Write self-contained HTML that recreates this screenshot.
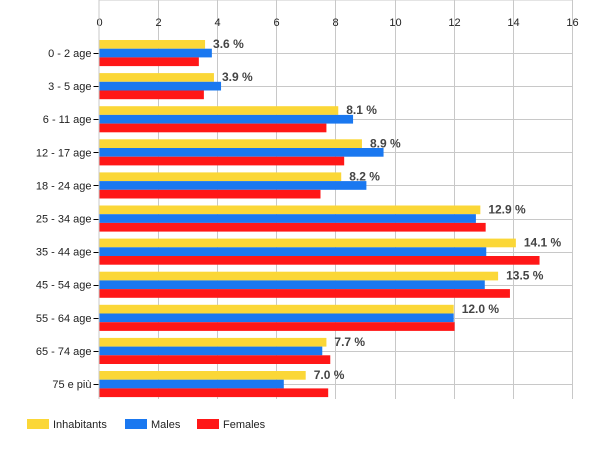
<!DOCTYPE html>
<html><head><meta charset="utf-8"><style>
html,body{margin:0;padding:0;background:#fff;}
svg{display:block;font-family:"Liberation Sans",Arial,sans-serif;}
</style></head><body>
<svg width="600" height="450" xmlns="http://www.w3.org/2000/svg">
<g id="grid" stroke="#c8c8c8" stroke-width="1"></g>
<g id="bars"></g>
<g id="txt"></g>
<g font-size="11" fill="#222">
<rect x="27" y="419" width="22" height="10" fill="#FBD737"/><text x="53" y="428">Inhabitants</text>
<rect x="125" y="419" width="22" height="10" fill="#1A78F0"/><text x="151" y="428">Males</text>
<rect x="197" y="419" width="22" height="10" fill="#FF1717"/><text x="223" y="428">Females</text>
</g>
<script>
var ns="http://www.w3.org/2000/svg";
function el(p,t,a,txt){var e=document.createElementNS(ns,t);for(var k in a)e.setAttribute(k,a[k]);if(txt!=null)e.textContent=txt;p.appendChild(e);return e;}
var g=document.getElementById('grid'),b=document.getElementById('bars'),t=document.getElementById('txt');
var x0=98.5,s=29.6,top=31,bot=399;
el(g,'line',{x1:x0,x2:x0+16*s,y1:top+0.5,y2:top+0.5});
for(var i=0;i<=8;i++){var x=Math.round(x0+2*i*s)+0.5;
 if(i>0)el(g,'line',{x1:x,x2:x,y1:top,y2:bot});
 el(t,'line',{x1:x,x2:x,y1:top-4,y2:top,stroke:'#000'});
 el(t,'text',{x:x,y:26,'text-anchor':'middle','font-size':11,fill:'#222'},String(2*i));}
var cats=["0 - 2 age","3 - 5 age","6 - 11 age","12 - 17 age","18 - 24 age","25 - 34 age","35 - 44 age","45 - 54 age","55 - 64 age","65 - 74 age","75 e più"];
var Y=[3.6,3.9,8.1,8.9,8.2,12.9,14.1,13.5,12.0,7.7,7.0];
var M=[3.83,4.14,8.6,9.63,9.05,12.75,13.1,13.05,12.0,7.56,6.26];
var F=[3.39,3.56,7.7,8.3,7.5,13.08,14.9,13.9,12.03,7.83,7.76];
for(var i=0;i<11;i++){var c=53+33.1*i;var cy=Math.round(c)+0.5;
 el(g,'line',{x1:x0,x2:x0+16*s,y1:cy,y2:cy});
 el(t,'line',{x1:x0-5,x2:x0,y1:cy,y2:cy,stroke:'#000'});
 el(t,'text',{x:x0-7,y:c+4,'text-anchor':'end','font-size':11,fill:'#222'},cats[i]);
 var y1=c-13;
 el(b,'rect',{x:x0,y:y1,width:Y[i]*s,height:8.7,fill:'#FBD737'});
 el(b,'rect',{x:x0,y:y1+8.7,width:M[i]*s,height:8.7,fill:'#1A78F0'});
 el(b,'rect',{x:x0,y:y1+17.4,width:F[i]*s,height:8.7,fill:'#FF1717'});
 el(t,'text',{x:x0+Y[i]*s+8,y:y1+8,'font-size':12,'font-weight':'bold',fill:'#444'},Y[i].toFixed(1)+' %');
}
el(t,'line',{x1:x0+0.5,x2:x0+0.5,y1:top,y2:bot,stroke:'#c8c8c8'});
</script>
</svg>
</body></html>
